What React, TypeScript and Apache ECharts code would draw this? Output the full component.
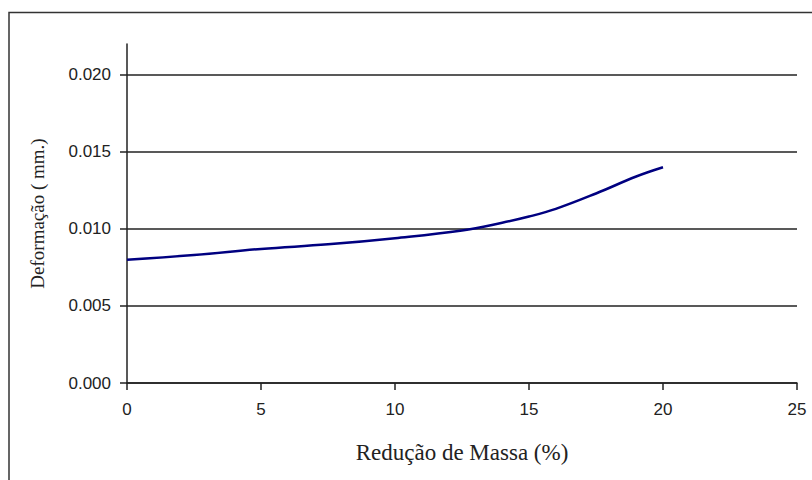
import React, { useEffect, useRef } from "react";
import * as echarts from "echarts";

const reducao = [0, 2.5, 5, 7.5, 10, 12.5, 14, 15, 16, 17.5, 19, 20];
const deformacao = [0.008, 0.0083, 0.0087, 0.009, 0.0094, 0.0099, 0.0104, 0.0108, 0.0113, 0.0123, 0.0134, 0.014];
const yTicks = [0, 0.005, 0.01, 0.015, 0.02];
const xTitle = "Redução de Massa (%)";
const yTitle = "Deformação ( mm.)";

export default function App() {
  const ref = useRef<HTMLDivElement>(null);
  useEffect(() => {
    if (!ref.current) return;
    const chart = echarts.init(ref.current, undefined, { renderer: "svg" });
    chart.setOption({
      animation: false,
      backgroundColor: "#ffffff",
      graphic: [
        {
          type: "rect",
          shape: { x: 9, y: 12.5, width: 830, height: 500 },
          style: { fill: "none", stroke: "#333", lineWidth: 1.5 },
          silent: true,
        },
      ],
      grid: { left: 127, right: 15, top: 44, bottom: 97 },
      xAxis: {
        type: "value",
        min: 0,
        max: 25,
        interval: 5,
        name: xTitle,
        nameLocation: "middle",
        nameGap: 58,
        nameTextStyle: { fontFamily: "Liberation Serif", fontSize: 23, color: "#222" },
        axisLine: { show: true, lineStyle: { color: "#222", width: 1.5 } },
        axisTick: { show: true, length: 7, lineStyle: { color: "#222", width: 1.5 } },
        axisLabel: { fontFamily: "Liberation Sans", fontSize: 17, color: "#222", margin: 18 },
        splitLine: { show: false },
      },
      yAxis: {
        type: "value",
        min: 0,
        max: 0.022,
        interval: 0.005,
        name: yTitle,
        nameLocation: "middle",
        nameGap: 80,
        nameRotate: 90,
        nameTextStyle: { fontFamily: "Liberation Serif", fontSize: 19, color: "#222" },
        axisLine: { show: true, lineStyle: { color: "#222", width: 1.5 } },
        axisTick: { show: true, length: 7, customValues: yTicks, lineStyle: { color: "#222", width: 1.5 } },
        axisLabel: {
          fontFamily: "Liberation Sans",
          fontSize: 17,
          color: "#222",
          margin: 16,
          customValues: yTicks,
          formatter: (v: number) => v.toFixed(3),
        },
        splitLine: { show: true, lineStyle: { color: "#222", width: 1.5 } },
      },
      series: [
        {
          type: "line",
          data: reducao.map((x, i) => [x, deformacao[i]]),
          smooth: 0.4,
          showSymbol: false,
          lineStyle: { color: "#000080", width: 2.5 },
        },
      ],
    });
    return () => chart.dispose();
  }, []);
  return <div ref={ref} style={{ position: "fixed", left: 0, top: 0, width: 812, height: 480 }} />;
}
